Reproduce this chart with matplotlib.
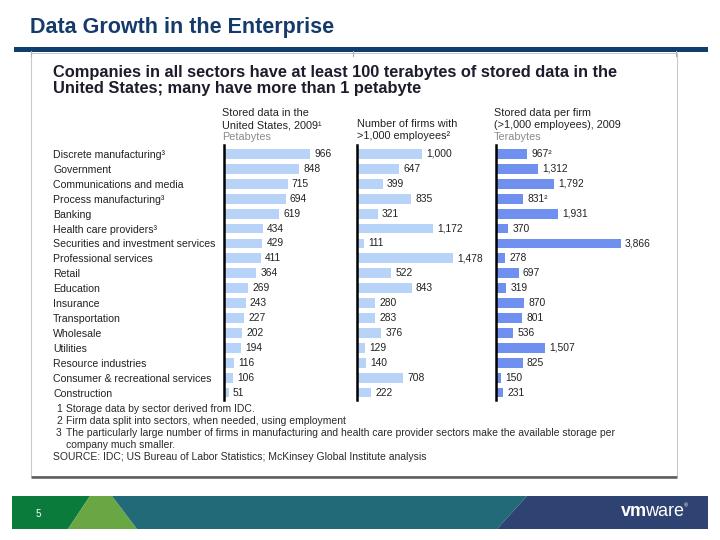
import matplotlib.pyplot as plt
from matplotlib.patches import Polygon, Rectangle

plt.rcParams['font.family'] = ['Liberation Sans', 'DejaVu Sans']

# data
sectors = ["Discrete manufacturing³", "Government", "Communications and media",
           "Process manufacturing³", "Banking", "Health care providers³",
           "Securities and investment services", "Professional services", "Retail",
           "Education", "Insurance", "Transportation", "Wholesale", "Utilities",
           "Resource industries", "Consumer & recreational services", "Construction"]
stored_pb = [966, 848, 715, 694, 619, 434, 429, 411, 364, 269, 243, 227, 202, 194, 116, 106, 51]
firms = [1000, 647, 399, 835, 321, 1172, 111, 1478, 522, 843, 280, 283, 376, 129, 140, 708, 222]
per_firm_tb = [967, 1312, 1792, 831, 1931, 370, 3866, 278, 697, 319, 870, 801, 536, 1507, 825, 150, 231]
per_firm_note = ["²", "", "", "²", "", "", "", "", "", "", "", "", "", "", "", "", ""]

footnotes = ["Storage data by sector derived from IDC.",
             "Firm data split into sectors, when needed, using employment",
             "The particularly large number of firms in manufacturing and health care provider sectors make the available storage per"]
footnote_cont = "company much smaller."
source = "SOURCE: IDC; US Bureau of Labor Statistics; McKinsey Global Institute analysis"

W, H = 720, 540
fig = plt.figure(figsize=(7.2, 5.4), dpi=100)
bg = fig.add_axes([0, 0, 1, 1])
bg.set_xlim(0, W)
bg.set_ylim(H, 0)
bg.axis('off')


def px_axes(x0, y0, x1, y1):
    return fig.add_axes([x0 / W, 1 - y1 / H, (x1 - x0) / W, (y1 - y0) / H])


# slide title + rule
bg.text(30, 27, "Data Growth in the Enterprise", fontsize=15.5, fontweight='bold',
        color='#163b6b', va='center', ha='left')
bg.add_patch(Rectangle((14, 47), 694, 4.5, color='#0f3d6e', lw=0))

# embedded chart frame
bg.add_patch(Rectangle((31, 53), 646, 423, facecolor='white', edgecolor='#c9c9c9', lw=0.8))
bg.plot([31, 677], [476.5, 476.5], color='#5a5a5a', lw=1.8, solid_capstyle='butt')
for tx in [31, 353, 676]:
    bg.plot([tx, tx], [51, 56], color='#b0b0b0', lw=0.8)

bg.text(53, 72, "Companies in all sectors have at least 100 terabytes of stored data in the",
        fontsize=11.8, fontweight='bold', color='#1c1c2c', va='center')
bg.text(53, 88, "United States; many have more than 1 petabyte",
        fontsize=11.8, fontweight='bold', color='#1c1c2c', va='center')

hfs = 7.8
hdr = dict(fontsize=hfs, color='#222222', va='center', ha='left')
bg.text(222, 113, "Stored data in the", **hdr)
bg.text(222, 125, "United States, 2009¹", **hdr)
bg.text(222, 137, "Petabytes", fontsize=hfs, color='#8a8a8a', va='center')
bg.text(357, 124, "Number of firms with", **hdr)
bg.text(357, 136, ">1,000 employees²", **hdr)
bg.text(494, 113, "Stored data per firm", **hdr)
bg.text(494, 125, "(>1,000 employees), 2009", **hdr)
bg.text(494, 137, "Terabytes", fontsize=hfs, color='#8a8a8a', va='center')

rows = list(range(len(sectors)))
row_top, row_bot = -0.6, 16.5

panels = [
    (224, 350, 1416, stored_pb, None, '#b7d3f7'),
    (357, 490, 2046, firms, None, '#b7d3f7'),
    (496, 670, 5385, per_firm_tb, per_firm_note, '#7090ef'),
]
for i, (x0, x1, xmax, vals, notes, col) in enumerate(panels):
    ax = px_axes(x0, 145, x1, 400)
    ax.barh(rows, vals, height=0.66, color=col, lw=0)
    ax.set_xlim(0, xmax)
    ax.set_ylim(row_bot, row_top)
    for s in ['top', 'right', 'bottom']:
        ax.spines[s].set_visible(False)
    ax.spines['left'].set_linewidth(1.8)
    ax.spines['left'].set_color('black')
    ax.set_xticks([])
    ax.patch.set_alpha(0)
    for r, v in zip(rows, vals):
        lab = f"{v:,}" + (notes[r] if notes else "")
        ax.annotate(lab, (v, r), xytext=(3, 0), textcoords='offset points',
                    va='center', ha='left', fontsize=7.4, color='#222222')
    if i == 0:
        ax.set_yticks(rows)
        ax.set_yticklabels(sectors, fontsize=7.6, color='#222222', ha='left')
        ax.tick_params(axis='y', length=0, pad=(224 - 53) * 0.72)
    else:
        ax.set_yticks([])

# footnotes
ffs = 7.5
for n, (y, t) in enumerate(zip([409, 421, 433], footnotes), start=1):
    bg.text(56, y, str(n), fontsize=ffs, color='#2a2a2a', va='center', ha='left')
    bg.text(66, y, t, fontsize=ffs, color='#2a2a2a', va='center', ha='left')
bg.text(66, 445, footnote_cont, fontsize=ffs, color='#2a2a2a', va='center', ha='left')
bg.text(53, 457, source, fontsize=ffs, color='#2a2a2a', va='center', ha='left')

# footer band
y0, y1 = 496, 529
bg.add_patch(Polygon([(12, y0), (90, y0), (68, y1), (12, y1)], color='#0b7b3c', lw=0))
bg.add_patch(Polygon([(90, y0), (112, y0), (137, y1), (68, y1)], color='#69a744', lw=0))
bg.add_patch(Polygon([(112, y0), (527, y0), (497, y1), (137, y1)], color='#226a78', lw=0))
bg.add_patch(Polygon([(527, y0), (708, y0), (708, y1), (497, y1)], color='#2e4371', lw=0))
bg.text(38, 514, "5", fontsize=7, color='white', va='center', ha='center')
vm = bg.text(621, 511, "vm", fontsize=13, fontweight='bold', color='white', va='center', ha='left')
wr = bg.annotate("ware", xy=(1, 0.5), xycoords=vm, xytext=(-1.5, 0), textcoords='offset points',
                 va='center', ha='left', fontsize=13, color='white')
bg.annotate("®", xy=(1, 0.8), xycoords=wr, va='center', ha='left', fontsize=4, color='white')

fig.savefig("out.png", dpi=100)
